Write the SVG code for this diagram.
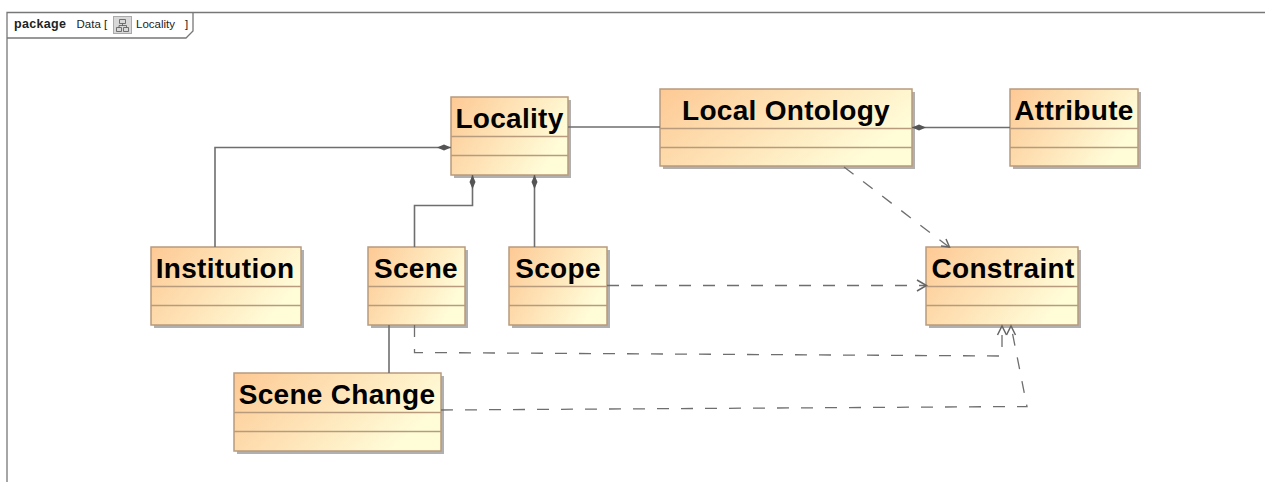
<svg xmlns="http://www.w3.org/2000/svg" width="1265" height="482" viewBox="0 0 1265 482">
<style>
.box{fill:url(#g);stroke:#b89b7c;stroke-width:1.5}
.shadow{fill:#b0b0b0}
.sep{stroke:#b89b7c;stroke-width:1.4;fill:none}
.name{font:700 28px "Liberation Sans",Arial,sans-serif;fill:#000;text-anchor:middle;letter-spacing:.3px}
.line{fill:none;stroke:#6e6e6e;stroke-width:1.6}
.dash{fill:none;stroke:#6e6e6e;stroke-width:1.3;stroke-dasharray:12 12}
.open{fill:none;stroke:#666;stroke-width:1.5}
.dia{fill:#555}
.frame{font:11.500px "Liberation Sans",Arial,sans-serif;fill:#222}
.frameb{font:700 12.500px "Liberation Sans",Arial,sans-serif;fill:#222;letter-spacing:.3px}
</style>
<defs>
<linearGradient id="g" x1="0" y1="0" x2="1" y2="0.4"><stop offset="0" stop-color="#fdc994"/><stop offset="1" stop-color="#fffcd8"/></linearGradient>
</defs>
<rect width="1265" height="482" fill="#fff"/>
<g id="frame">
<path d="M7 482V12.500H1265" fill="none" stroke="#777" stroke-width="1.300"/>
<path d="M7 38H186L193 31V12.500" fill="none" stroke="#777" stroke-width="1.300"/>
<text class="frameb" x="14" y="28">package</text>
<text class="frame" x="76.500" y="28">Data [</text>
<rect x="113.500" y="16.500" width="18" height="17" fill="#d8d8d8" stroke="#aaa"/>
<path d="M119.500 19.500h6v4h-6zM116.500 27.500h5v4h-5zM123.500 27.500h5v4h-5zM122.500 23.500v2M119 27.500v-2h7.500v2" fill="none" stroke="#555" stroke-width=".8"/>
<text class="frame" x="136" y="28">Locality</text>
<text class="frame" x="185" y="28">]</text>
</g>
<g id="n-locality"><rect class="shadow" x="454" y="100" width="117" height="78"/><rect class="box" x="451" y="97" width="117" height="78"/><path class="sep" d="M451 136.500H568M451 155.500H568"/><text class="name" x="509.500" y="128">Locality</text></g>
<g id="n-local-ontology"><rect class="shadow" x="663" y="92" width="252" height="77"/><rect class="box" x="660" y="89" width="252" height="77"/><path class="sep" d="M660 128.500H912M660 147.500H912"/><text class="name" x="786" y="120">Local Ontology</text></g>
<g id="n-attribute"><rect class="shadow" x="1013" y="92" width="128" height="77"/><rect class="box" x="1010" y="89" width="128" height="77"/><path class="sep" d="M1010 128.500H1138M1010 147.500H1138"/><text class="name" x="1074" y="120">Attribute</text></g>
<g id="n-institution"><rect class="shadow" x="154" y="250" width="150" height="78"/><rect class="box" x="151" y="247" width="150" height="78"/><path class="sep" d="M151 286.500H301M151 305.500H301"/><text class="name" x="225" y="278">Institution</text></g>
<g id="n-scene"><rect class="shadow" x="371" y="250" width="97" height="78"/><rect class="box" x="368" y="247" width="97" height="78"/><path class="sep" d="M368 286.500H465M368 305.500H465"/><text class="name" x="416" y="278">Scene</text></g>
<g id="n-scope"><rect class="shadow" x="512" y="250" width="98" height="78"/><rect class="box" x="509" y="247" width="98" height="78"/><path class="sep" d="M509 286.500H607M509 305.500H607"/><text class="name" x="558" y="278">Scope</text></g>
<g id="n-constraint"><rect class="shadow" x="929" y="250" width="152" height="78"/><rect class="box" x="926" y="247" width="152" height="78"/><path class="sep" d="M926 286.500H1078M926 305.500H1078"/><text class="name" x="1003" y="278">Constraint</text></g>
<g id="n-scene-change"><rect class="shadow" x="237" y="376" width="207" height="78"/><rect class="box" x="234" y="373" width="207" height="78"/><path class="sep" d="M234 412.500H441M234 431.500H441"/><text class="name" x="337" y="404">Scene Change</text></g>
<g id="connectors">
<path class="line" d="M215 247V147.500H451"/>
<path class="dia" d="M451 147.500l-7-3-7 3 7 3z"/>
<path class="line" d="M414.500 247V205.500H472.500V175"/>
<path class="dia" d="M472.500 175l-3 7 3 7 3-7z"/>
<path class="line" d="M534.500 247V175"/>
<path class="dia" d="M534.500 175l-3 7 3 7 3-7z"/>
<path class="line" d="M568 127H660"/>
<path class="line" d="M912 127.500H1010"/>
<path class="dia" d="M912 127.500l7-3 7 3-7 3z"/>
<path class="line" d="M389 325V373"/>
<path class="dash" d="M844 167L949 247"/>
<path class="open" d="M946 239L949.500 247L941 246"/>
<path class="dash" d="M607 285.500H926"/>
<path class="open" d="M917 280L926.500 285.500L917 291"/>
<path class="dash" d="M414.500 325V352.500L1002 356V326"/>
<path class="open" d="M997.500 335L1002 326L1006.500 335"/>
<path class="dash" d="M441 410L1027 406.500L1011 326"/>
<path class="open" d="M1006.500 335L1011 326L1015.500 335"/>
</g>
</svg>
